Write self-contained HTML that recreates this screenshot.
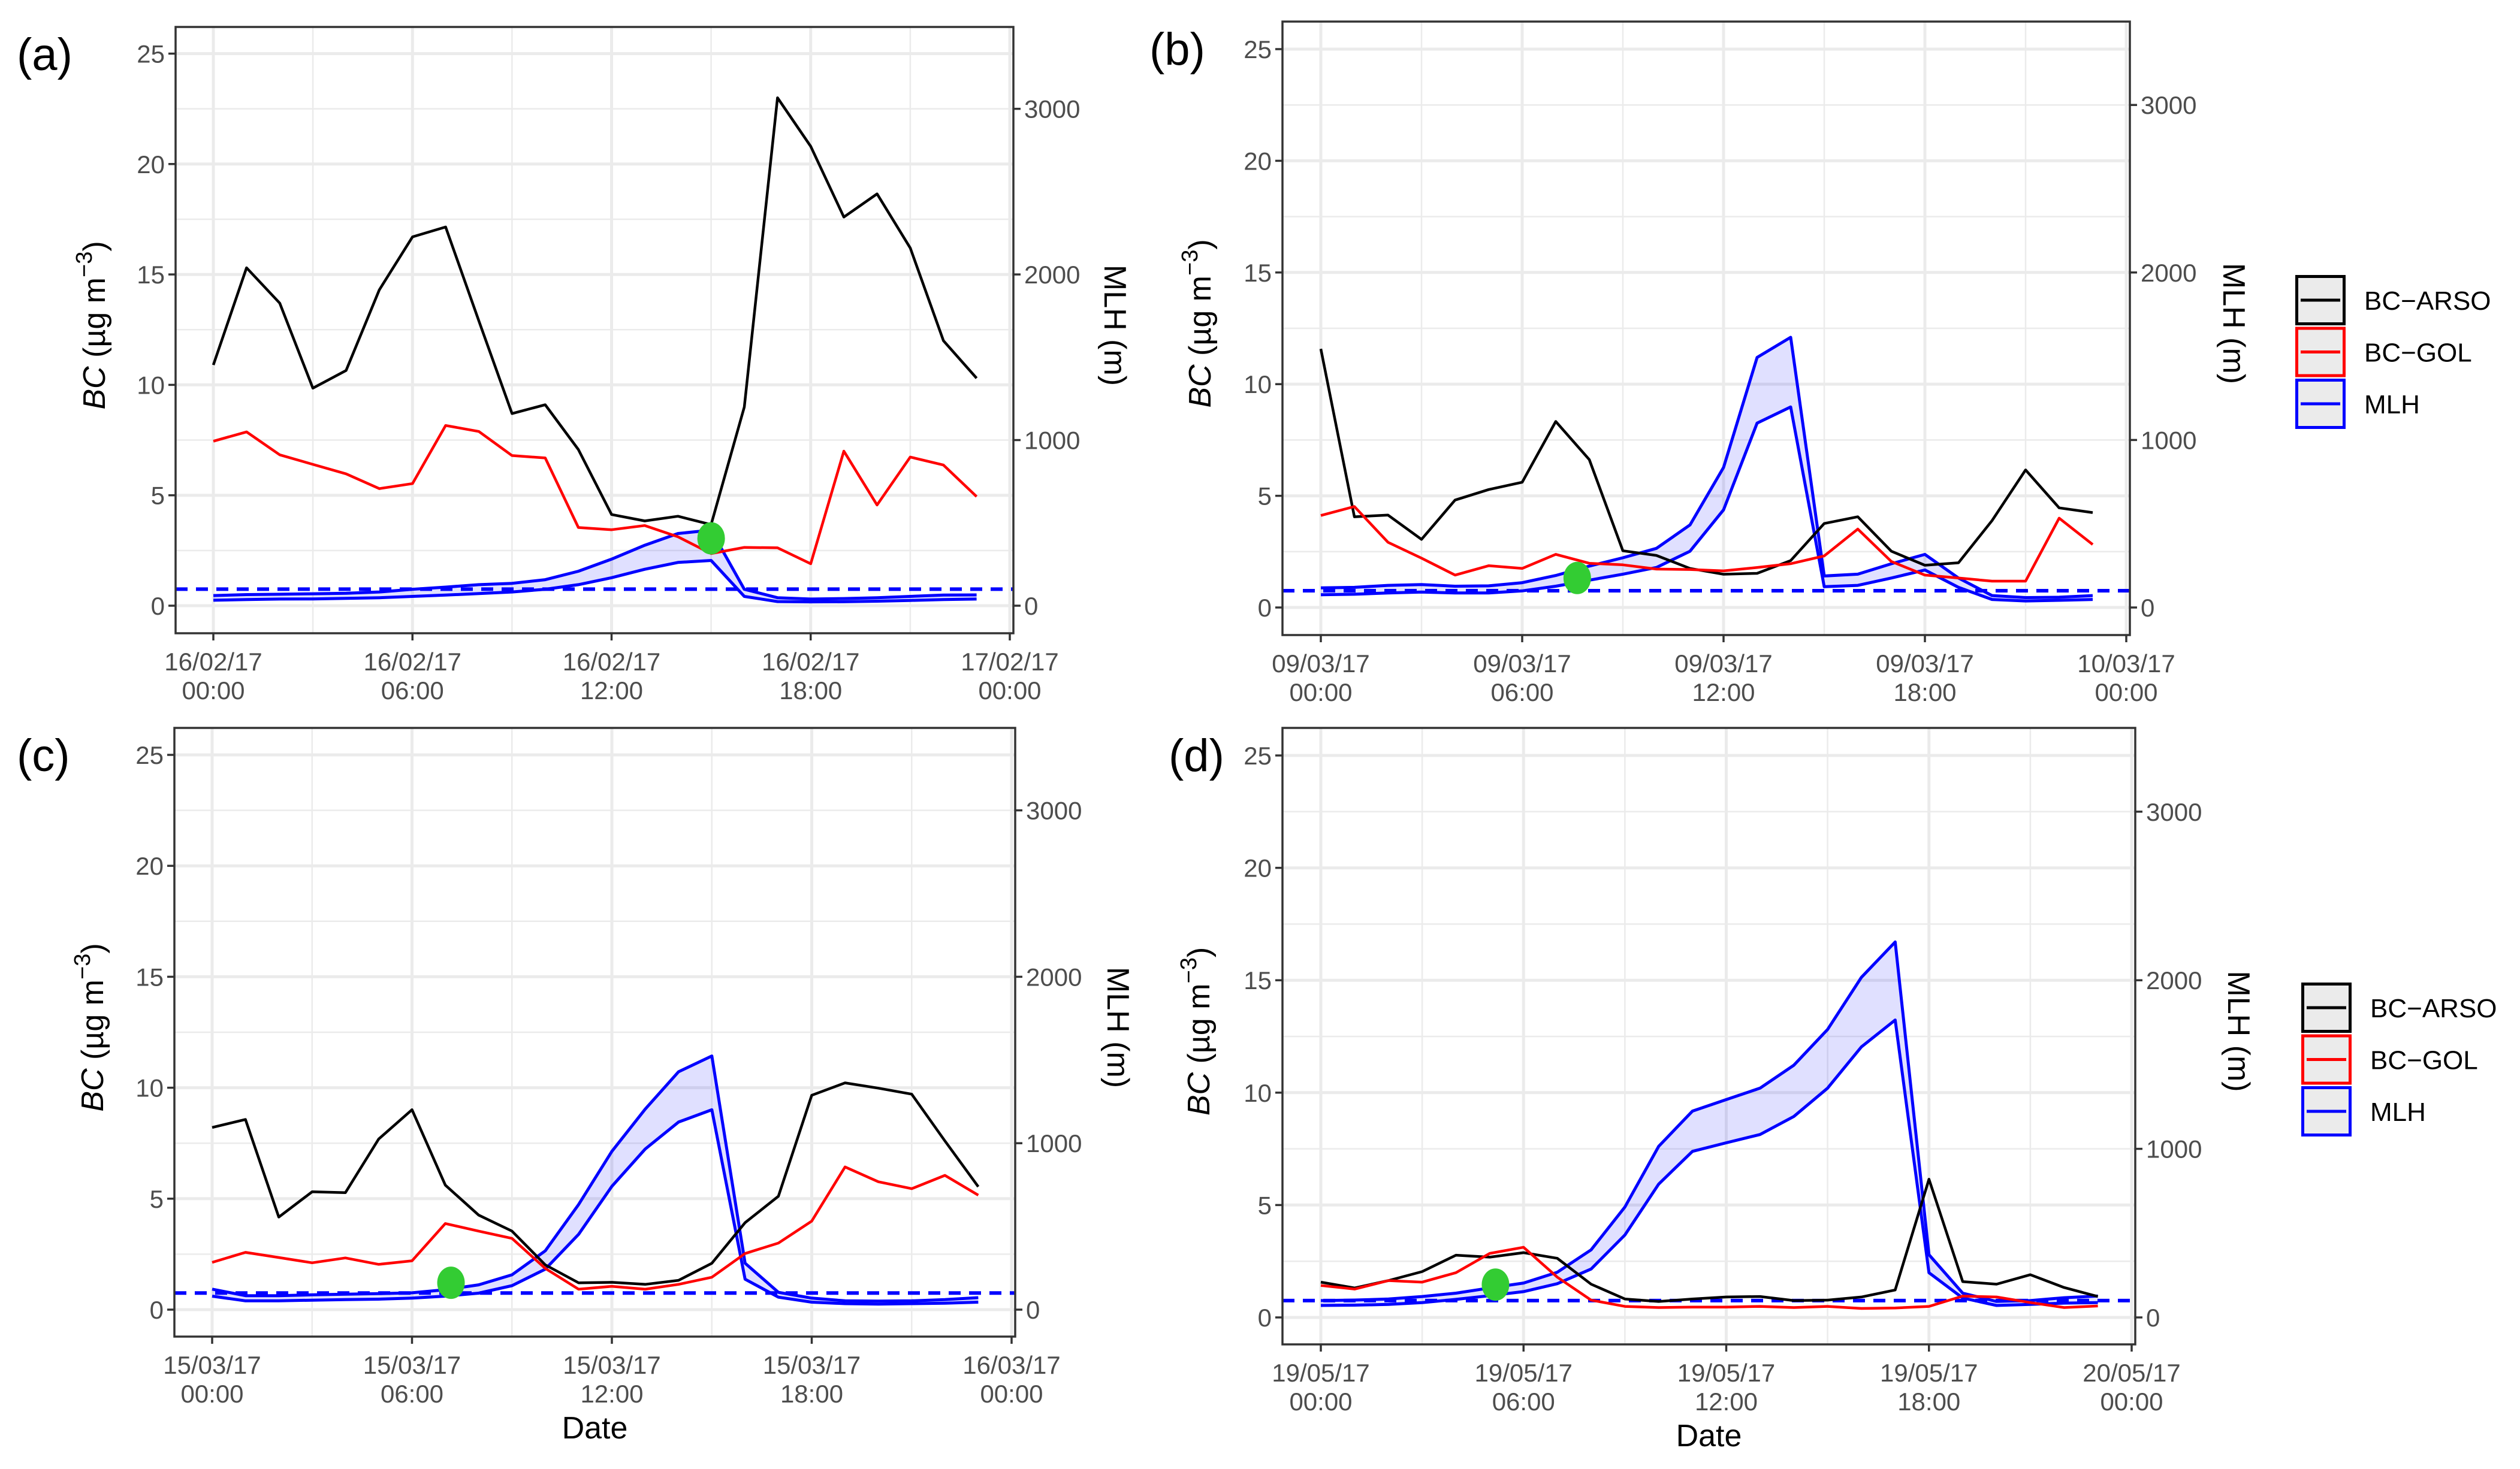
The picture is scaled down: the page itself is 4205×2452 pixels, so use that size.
<!DOCTYPE html>
<html><head><meta charset="utf-8"><style>
html,body{margin:0;padding:0;background:#fff;}
svg{display:block;font-family:"Liberation Sans",sans-serif;}
</style></head><body>
<svg id="chart" width="4205" height="2452" viewBox="0 0 4205 2452" xmlns="http://www.w3.org/2000/svg"></svg>
<script>
// ---- data (hourly, 00:00 .. 23:00) ----
const hours = [0,1,2,3,4,5,6,7,8,9,10,11,12,13,14,15,16,17,18,19,20,21,22,23];
const xTickHours = [0,6,12,18,24];
const yTicks = [0,5,10,15,20,25];
const mlhTicks = [0,1000,2000,3000];
const mlhThreshold = 100;

const aDates = ["16/02/17","16/02/17","16/02/17","16/02/17","17/02/17"];
const aArso = [10.9,15.3,13.7,9.85,10.65,14.3,16.7,17.15,12.9,8.7,9.1,7.07,4.13,3.84,4.05,3.67,9.0,23.0,20.8,17.6,18.65,16.2,12.0,10.3];
const aGol = [7.45,7.87,6.83,6.4,5.97,5.3,5.53,8.16,7.89,6.8,6.69,3.54,3.44,3.63,3.12,2.36,2.64,2.62,1.9,7.0,4.56,6.73,6.37,4.94];
const aMlhUp = [61,67,69,72,75,83,99,112,127,135,157,208,281,365,436,456,99,48,40,43,48,56,64,65];
const aMlhLo = [33,37,40,41,44,48,56,64,73,83,99,127,169,220,261,273,56,25,23,24,27,32,37,40];
const aDot = [15, 3.05];

const bDates = ["09/03/17","09/03/17","09/03/17","09/03/17","10/03/17"];
const bArso = [11.58,4.06,4.14,3.05,4.81,5.28,5.61,8.33,6.62,2.54,2.33,1.75,1.49,1.53,2.10,3.76,4.06,2.52,1.89,2.0,3.89,6.16,4.46,4.25];
const bGol = [4.12,4.52,2.92,2.21,1.45,1.87,1.75,2.38,1.98,1.91,1.72,1.70,1.64,1.79,1.96,2.31,3.51,2.06,1.45,1.32,1.18,1.18,4.0,2.82];
const bMlhUp = [117,120,132,137,127,129,148,191,247,297,353,493,836,1493,1613,188,199,261,317,176,71,59,61,71];
const bMlhLo = [76,79,87,92,87,87,99,127,163,199,239,336,583,1101,1197,124,132,176,224,120,48,39,43,48];
const bDot = [7.64, 1.32];

const cDates = ["15/03/17","15/03/17","15/03/17","15/03/17","16/03/17"];
const cArso = [8.21,8.57,4.17,5.31,5.27,7.69,9.01,5.61,4.26,3.54,2.02,1.21,1.23,1.14,1.32,2.09,3.92,5.11,9.66,10.22,9.98,9.71,7.6,5.54];
const cGol = [2.13,2.58,2.35,2.11,2.33,2.04,2.20,3.88,3.54,3.21,1.86,0.92,1.05,0.92,1.14,1.46,2.53,3.0,3.99,6.43,5.76,5.45,6.05,5.16];
const cMlhUp = [123,84,84,89,93,96,101,120,149,209,353,631,951,1205,1429,1524,279,104,69,53,51,53,60,72];
const cMlhLo = [81,53,53,57,60,63,69,81,99,144,243,452,741,965,1127,1201,183,75,45,36,33,36,39,45];
const cDot = [7.17, 1.21];

const dDates = ["19/05/17","19/05/17","19/05/17","19/05/17","20/05/17"];
const dArso = [1.57,1.31,1.64,2.04,2.77,2.68,2.88,2.63,1.48,0.82,0.71,0.82,0.91,0.93,0.75,0.77,0.91,1.22,6.15,1.59,1.48,1.90,1.33,0.93];
const dGol = [1.42,1.26,1.64,1.57,1.99,2.85,3.12,1.79,0.77,0.49,0.44,0.46,0.46,0.49,0.44,0.49,0.40,0.42,0.49,0.95,0.91,0.66,0.44,0.51];
const dMlhUp = [100,103,109,124,144,175,204,268,401,655,1015,1224,1292,1360,1496,1708,2017,2227,372,144,95,100,117,127];
const dMlhLo = [71,73,77,88,107,129,153,200,287,489,791,985,1036,1085,1192,1360,1605,1764,265,115,71,77,85,88];
const dDot = [5.17, 1.46];

const timeLabels = ["00:00","06:00","12:00","18:00","00:00"];
const mlhPerBc = 400/3; // secondary axis scale

const svg = document.getElementById('chart');
const NS = 'http://www.w3.org/2000/svg';
function mk(tag, attrs, parent){
  const e = document.createElementNS(NS, tag);
  for (const k in attrs) e.setAttribute(k, attrs[k]);
  (parent||svg).appendChild(e);
  return e;
}

function panel(letter, g, dates, arso, gol, up, lo, dot, showDate, showLegend){
  const grp = mk('g', {});
  
  
  const X = h => g.x0 + (g.x24 - g.x0) * h / 24;
  const Y = v => g.y0 - (g.y0 - g.y25) * v / 25;
  const YM = m => Y(m / mlhPerBc);
  // grid
  const gridG = mk('g', {}, grp);
  
  
  for (let v = 2.5; v < 26; v += 5) mk('line', {x1:g.l, x2:g.r, y1:Y(v), y2:Y(v), stroke:'#ebebeb', 'stroke-width':2.5}, gridG);
  for (let h = 3; h < 24; h += 6) mk('line', {x1:X(h), x2:X(h), y1:g.t, y2:g.b, stroke:'#ebebeb', 'stroke-width':2.5}, gridG);
  yTicks.forEach(v => mk('line', {x1:g.l, x2:g.r, y1:Y(v), y2:Y(v), stroke:'#ebebeb', 'stroke-width':5}, gridG));
  xTickHours.forEach(h => mk('line', {x1:X(h), x2:X(h), y1:g.t, y2:g.b, stroke:'#ebebeb', 'stroke-width':5}, gridG));
  // band
  let d = '';
  hours.forEach((h,i) => { d += (i ? 'L' : 'M') + X(h).toFixed(1) + ',' + YM(up[i]).toFixed(1); });
  for (let i = hours.length - 1; i >= 0; i--) d += 'L' + X(hours[i]).toFixed(1) + ',' + YM(lo[i]).toFixed(1);
  const band = mk('path', {d: d + 'Z', fill:'rgba(0,0,255,0.12)', stroke:'none'}, grp);
  
  
  function line(vals, conv, color, w, name){
    const pts = hours.map((h,i) => X(h).toFixed(1) + ',' + conv(vals[i]).toFixed(1)).join(' ');
    const p = mk('polyline', {points:pts, fill:'none', stroke:color, 'stroke-width':w, 'stroke-linejoin':'round'}, grp);
    
    
  }
  line(up, YM, '#0000ff', 5, 'mlh-upper-line');
  line(lo, YM, '#0000ff', 5, 'mlh-lower-line');
  const dl = mk('line', {x1:g.l, x2:g.r, y1:YM(mlhThreshold), y2:YM(mlhThreshold), stroke:'#0000ff', 'stroke-width':6, 'stroke-dasharray':'20 14'}, grp);
  
  
  line(arso, Y, '#000000', 4.5, 'bc-arso-line');
  line(gol, Y, '#ff0000', 4.5, 'bc-gol-line');
  const dotEl = mk('ellipse', {cx:X(dot[0]), cy:Y(dot[1]), rx:23, ry:27, fill:'#33cc33'}, grp);
  
  
  // border
  const bd = mk('rect', {x:g.l, y:g.t, width:g.r-g.l, height:g.b-g.t, fill:'none', stroke:'#333', 'stroke-width':3.5}, grp);
  
  
  // left ticks
  yTicks.forEach(v => {
    mk('line', {x1:g.l-12, x2:g.l, y1:Y(v), y2:Y(v), stroke:'#333', 'stroke-width':3.5}, grp);
    const t = mk('text', {x:g.l-18, y:Y(v)+15, 'text-anchor':'end', 'font-size':42, fill:'#4d4d4d'}, grp);
    t.textContent = v;
    
    
  });
  // right ticks
  mlhTicks.forEach(m => {
    mk('line', {x1:g.r, x2:g.r+12, y1:YM(m), y2:YM(m), stroke:'#333', 'stroke-width':3.5}, grp);
    const t = mk('text', {x:g.r+18, y:YM(m)+15, 'text-anchor':'start', 'font-size':42, fill:'#4d4d4d'}, grp);
    t.textContent = m;
    
    
  });
  // x ticks
  xTickHours.forEach((h,i) => {
    mk('line', {x1:X(h), x2:X(h), y1:g.b, y2:g.b+12, stroke:'#333', 'stroke-width':3.5}, grp);
    const t1 = mk('text', {x:X(h), y:g.b+62, 'text-anchor':'middle', 'font-size':42, fill:'#4d4d4d'}, grp);
    t1.textContent = dates[i];
    
    
    const t2 = mk('text', {x:X(h), y:g.b+110, 'text-anchor':'middle', 'font-size':42, fill:'#4d4d4d'}, grp);
    t2.textContent = timeLabels[i];
    
    
  });
  // titles
  const yc = (g.t + g.b) / 2 - 8;
  const yt = mk('text', {x:0, y:0, transform:'translate(' + (g.ytx) + ',' + yc + ') rotate(-90)', 'text-anchor':'middle', 'font-size':52, fill:'#000'}, grp);
  yt.innerHTML = '<tspan font-style="italic">BC</tspan> (µg m<tspan dy="-22" font-size="38">−3</tspan><tspan dy="22">)</tspan>';
  
  
  const rt = mk('text', {x:0, y:0, transform:'translate(' + (g.rtx) + ',' + yc + ') rotate(90)', 'text-anchor':'middle', 'font-size':52, fill:'#000'}, grp);
  rt.textContent = 'MLH (m)';
  
  
  const pl = mk('text', {x:g.plx, y:g.t + 72, 'font-size':76, fill:'#000'}, grp);
  pl.textContent = '(' + letter + ')';
  
  
  if (showDate){
    const dt = mk('text', {x:(g.l + g.r)/2, y:g.b + 170, 'text-anchor':'middle', 'font-size':52, fill:'#000'}, grp);
    dt.textContent = 'Date';
    
    
  }
  if (showLegend){
    const lg = mk('g', {}, grp);
    
    
    const items = [['BC−ARSO','#000000'],['BC−GOL','#ff0000'],['MLH','#0000ff']];
    items.forEach((it,i) => {
      const y = g.legY + i * 86.5;
      const ent = mk('g', {}, lg);
      
      
      mk('rect', {x:g.legX+2.5, y:y+2.5, width:79, height:79, fill:'#ebebeb', stroke:it[1], 'stroke-width':5}, ent);
      mk('line', {x1:g.legX+9, x2:g.legX+75, y1:y+42, y2:y+42, stroke:it[1], 'stroke-width':5}, ent);
      const t = mk('text', {x:g.legX+115, y:y+58, 'font-size':44, fill:'#000'}, ent);
      t.textContent = it[0];
    });
  }
}

panel('a', {l:293,r:1691,t:45,b:1057,x0:356,x24:1685,y0:1011,y25:89.5,ytx:175,rtx:1843,plx:28}, aDates, aArso, aGol, aMlhUp, aMlhLo, aDot, false, false);
panel('b', {l:2140,r:3554,t:36,b:1060,x0:2204,x24:3548,y0:1014,y25:82,ytx:2020,rtx:3710,plx:1918,legX:3830,legY:459}, bDates, bArso, bGol, bMlhUp, bMlhLo, bDot, false, true);
panel('c', {l:291,r:1694,t:1215,b:2231,x0:354,x24:1688,y0:2186,y25:1260,ytx:172,rtx:1848,plx:28}, cDates, cArso, cGol, cMlhUp, cMlhLo, cDot, true, false);
panel('d', {l:2140,r:3563,t:1215,b:2244,x0:2204,x24:3557,y0:2199,y25:1261,ytx:2018,rtx:3718,plx:1950,legX:3840,legY:1640}, dDates, dArso, dGol, dMlhUp, dMlhLo, dDot, true, true);
</script>
</body></html>
